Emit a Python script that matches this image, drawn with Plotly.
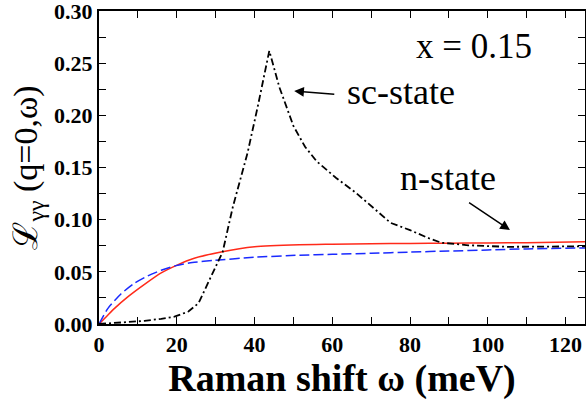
import plotly.graph_objects as go

# sc-state (black dash-dot)
sc_w = [0, 5, 11.7, 16, 19.4, 23, 25.6, 28.5, 31.8, 34.4, 38.2, 40.8, 43.8, 46.4, 50.0, 53, 56, 61, 66, 71, 75, 80, 85, 88, 95, 105, 115, 125]
sc_L = [0, 0.001, 0.003, 0.005, 0.007, 0.012, 0.020, 0.043, 0.069, 0.112, 0.164, 0.208, 0.262, 0.227, 0.190, 0.170, 0.156, 0.140, 0.126, 0.110, 0.097, 0.090, 0.082, 0.078, 0.0755, 0.074, 0.074, 0.0745]

# n-state red (solid)
red_w = [0, 2, 4.0, 7.4, 11.7, 16.0, 19.8, 24.5, 31.4, 40, 51.5, 60, 70, 80, 90, 100, 110, 125]
red_L = [0, 0.0075, 0.015, 0.026, 0.038, 0.049, 0.056, 0.063, 0.069, 0.074, 0.076, 0.0765, 0.077, 0.0772, 0.0775, 0.0778, 0.078, 0.079]

# n-state blue (dashed)
blue_w = [0, 2.3, 5.7, 9.1, 12.5, 16, 19.8, 24, 29.7, 40, 51.5, 60, 70, 80, 90, 100, 110, 125]
blue_L = [0, 0.015, 0.029, 0.039, 0.046, 0.0515, 0.056, 0.059, 0.061, 0.064, 0.066, 0.0668, 0.0678, 0.069, 0.070, 0.071, 0.072, 0.073]

x_ticks = [0, 20, 40, 60, 80, 100, 120]
y_ticks = [0.00, 0.05, 0.10, 0.15, 0.20, 0.25, 0.30]

SERIF = "Liberation Serif"

fig = go.Figure()
fig.add_trace(go.Scatter(x=red_w, y=red_L, mode="lines", line=dict(color="#ff2a1a", width=1.5, shape="spline", smoothing=0.6), showlegend=False))
fig.add_trace(go.Scatter(x=blue_w, y=blue_L, mode="lines", line=dict(color="#1a2aff", width=1.5, dash="10px,4px", shape="spline", smoothing=0.6), showlegend=False))
fig.add_trace(go.Scatter(x=sc_w, y=sc_L, mode="lines", line=dict(color="black", width=1.8, dash="7px,3px,2px,3px"), showlegend=False))

annotations = [
    dict(x=96.5, y=0.266, text="x = 0.15", showarrow=False, xref="x", yref="y",
         font=dict(family=SERIF, size=35, color="black")),
    dict(x=63.3, y=0.2227, text="sc-state", showarrow=False, xanchor="left", xref="x", yref="y",
         font=dict(family=SERIF, size=36, color="black")),
    dict(x=89.8, y=0.140, text="n-state", showarrow=False, xref="x", yref="y",
         font=dict(family=SERIF, size=36, color="black")),
    dict(x=50.2, y=0.2234, ax=60.9, ay=0.2202, xref="x", yref="y", axref="x", ayref="y",
         text="", showarrow=True, arrowhead=2, arrowsize=1.3, arrowwidth=1.5, arrowcolor="black"),
    dict(x=105.7, y=0.0901, ax=94.8, ay=0.1173, xref="x", yref="y", axref="x", ayref="y",
         text="", showarrow=True, arrowhead=2, arrowsize=1.3, arrowwidth=1.5, arrowcolor="black"),
]

fig.update_layout(
    width=586, height=401,
    margin=dict(l=99, r=1, t=11, b=77, autoexpand=False),
    plot_bgcolor="white", paper_bgcolor="white",
    annotations=annotations,
    font=dict(family=SERIF, color="black"),
)
fig.update_xaxes(
    range=[0, 125], tickvals=x_ticks, ticktext=[str(v) for v in x_ticks],
    ticks="inside", ticklen=7, tickwidth=1.3, tickcolor="black",
    minor=dict(dtick=10, ticks="inside", ticklen=7, tickwidth=1.1, tickcolor="black"),
    showline=True, linecolor="black", linewidth=2, mirror="ticks",
    showgrid=False, zeroline=False, automargin=False, ticklabeloverflow="allow",
    tickfont=dict(family=SERIF, size=22, color="black", weight="bold"),
    title=dict(text="Raman shift ω (meV)", standoff=4,
               font=dict(family=SERIF, size=38, color="black", weight="bold")),
)
fig.update_yaxes(
    range=[0, 0.3002], tickvals=y_ticks, ticktext=[f"{v:.2f}" for v in y_ticks],
    ticks="inside", ticklen=7, tickwidth=1.3, tickcolor="black",
    minor=dict(dtick=0.025, ticks="inside", ticklen=7, tickwidth=1.1, tickcolor="black"),
    showline=True, linecolor="black", linewidth=2, mirror="ticks",
    showgrid=False, zeroline=False, automargin=False, ticklabeloverflow="allow",
    tickfont=dict(family=SERIF, size=22, color="black", weight="bold"),
    title=dict(text="ℒ<sub>γγ</sub> (q=0,ω)", standoff=6,
               font=dict(family=SERIF, size=34, color="black")),
)

fig.write_html("out.html", config={"displayModeBar": False},
               post_script="document.body.style.margin='0px';document.body.style.overflow='hidden';")
